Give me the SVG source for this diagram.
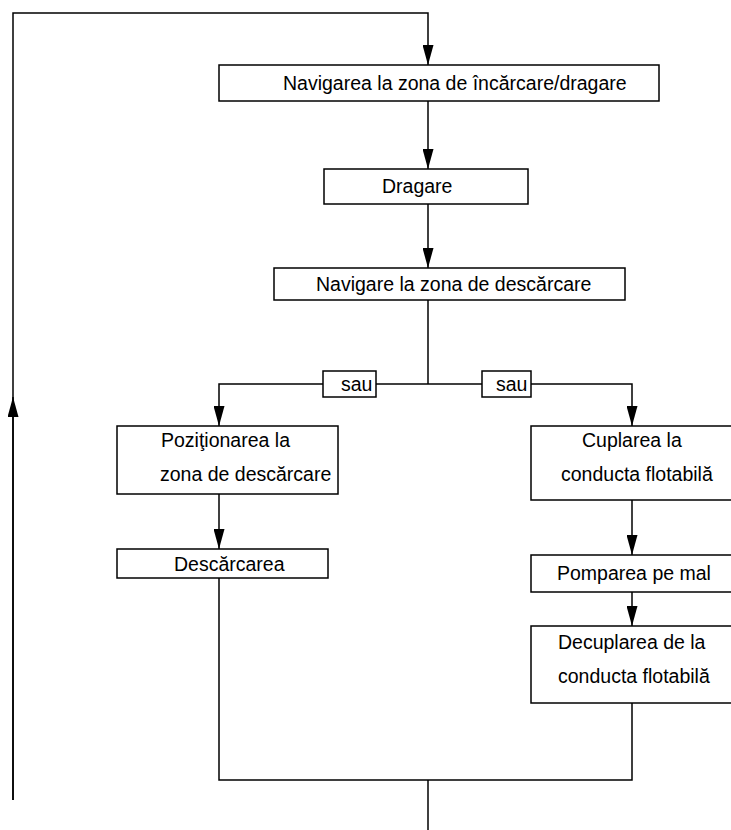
<svg xmlns="http://www.w3.org/2000/svg" width="731" height="830" viewBox="0 0 731 830">
<style>
.box{fill:#fff;stroke:#000;stroke-width:1.5}
.t{font-family:"Liberation Sans",Arial,sans-serif;font-size:19.5px;fill:#000}
.c{fill:none;stroke:#000;stroke-width:1.5}
</style>
<defs>
<marker id="ah" markerWidth="20" markerHeight="11" refX="20" refY="5.5" orient="auto" markerUnits="userSpaceOnUse" viewBox="0 0 20 11">
<path d="M0,0 L20,5.5 L0,11 z" fill="#000"/>
</marker>
</defs>
<rect width="731" height="830" fill="#fff"/>
<g id="connectors">
<path class="c" d="M13,800 V13 H428 V65" marker-end="url(#ah)"/>
<path class="c" d="M13,800 V397" marker-end="url(#ah)"/>
<path class="c" d="M428,101 V169" marker-end="url(#ah)"/>
<path class="c" d="M428,204 V268" marker-end="url(#ah)"/>
<path class="c" d="M428,300 V384"/>
<path class="c" d="M323,384 H219 V426" marker-end="url(#ah)"/>
<path class="c" d="M376,384 H482"/>
<path class="c" d="M531,384 H632 V426" marker-end="url(#ah)"/>
<path class="c" d="M219,494 V549" marker-end="url(#ah)"/>
<path class="c" d="M632,500 V555" marker-end="url(#ah)"/>
<path class="c" d="M632,592 V626" marker-end="url(#ah)"/>
<path class="c" d="M219,578 V780 H632 V703"/>
<path class="c" d="M428,780 V830"/>
</g>
<g id="n1"><rect class="box" x="219" y="65" width="440" height="36"/><text class="t" x="283" y="90">Navigarea la zona de încărcare/dragare</text></g>
<g id="n2"><rect class="box" x="324" y="169" width="204" height="35"/><text class="t" x="382" y="193">Dragare</text></g>
<g id="n3"><rect class="box" x="274" y="268" width="351" height="32"/><text class="t" x="316" y="291">Navigare la zona de descărcare</text></g>
<g id="sau1"><rect class="box" x="323" y="371" width="53" height="26"/><text class="t" x="341" y="391">sau</text></g>
<g id="sau2"><rect class="box" x="482" y="371" width="49" height="26"/><text class="t" x="496" y="391">sau</text></g>
<g id="n4"><rect class="box" x="117" y="426" width="221" height="68"/><text class="t" x="161" y="447">Poziţionarea la</text><text class="t" x="160" y="481">zona de descărcare</text></g>
<g id="n5"><rect class="box" x="531" y="426" width="210" height="74"/><text class="t" x="582" y="447">Cuplarea la</text><text class="t" x="561" y="481">conducta flotabilă</text></g>
<g id="n6"><rect class="box" x="117" y="549" width="211" height="29"/><text class="t" x="174" y="571">Descărcarea</text></g>
<g id="n7"><rect class="box" x="531" y="555" width="210" height="37"/><text class="t" x="557" y="580">Pomparea pe mal</text></g>
<g id="n8"><rect class="box" x="531" y="626" width="210" height="77"/><text class="t" x="558" y="649">Decuplarea de la</text><text class="t" x="558" y="683">conducta flotabilă</text></g>
</svg>
